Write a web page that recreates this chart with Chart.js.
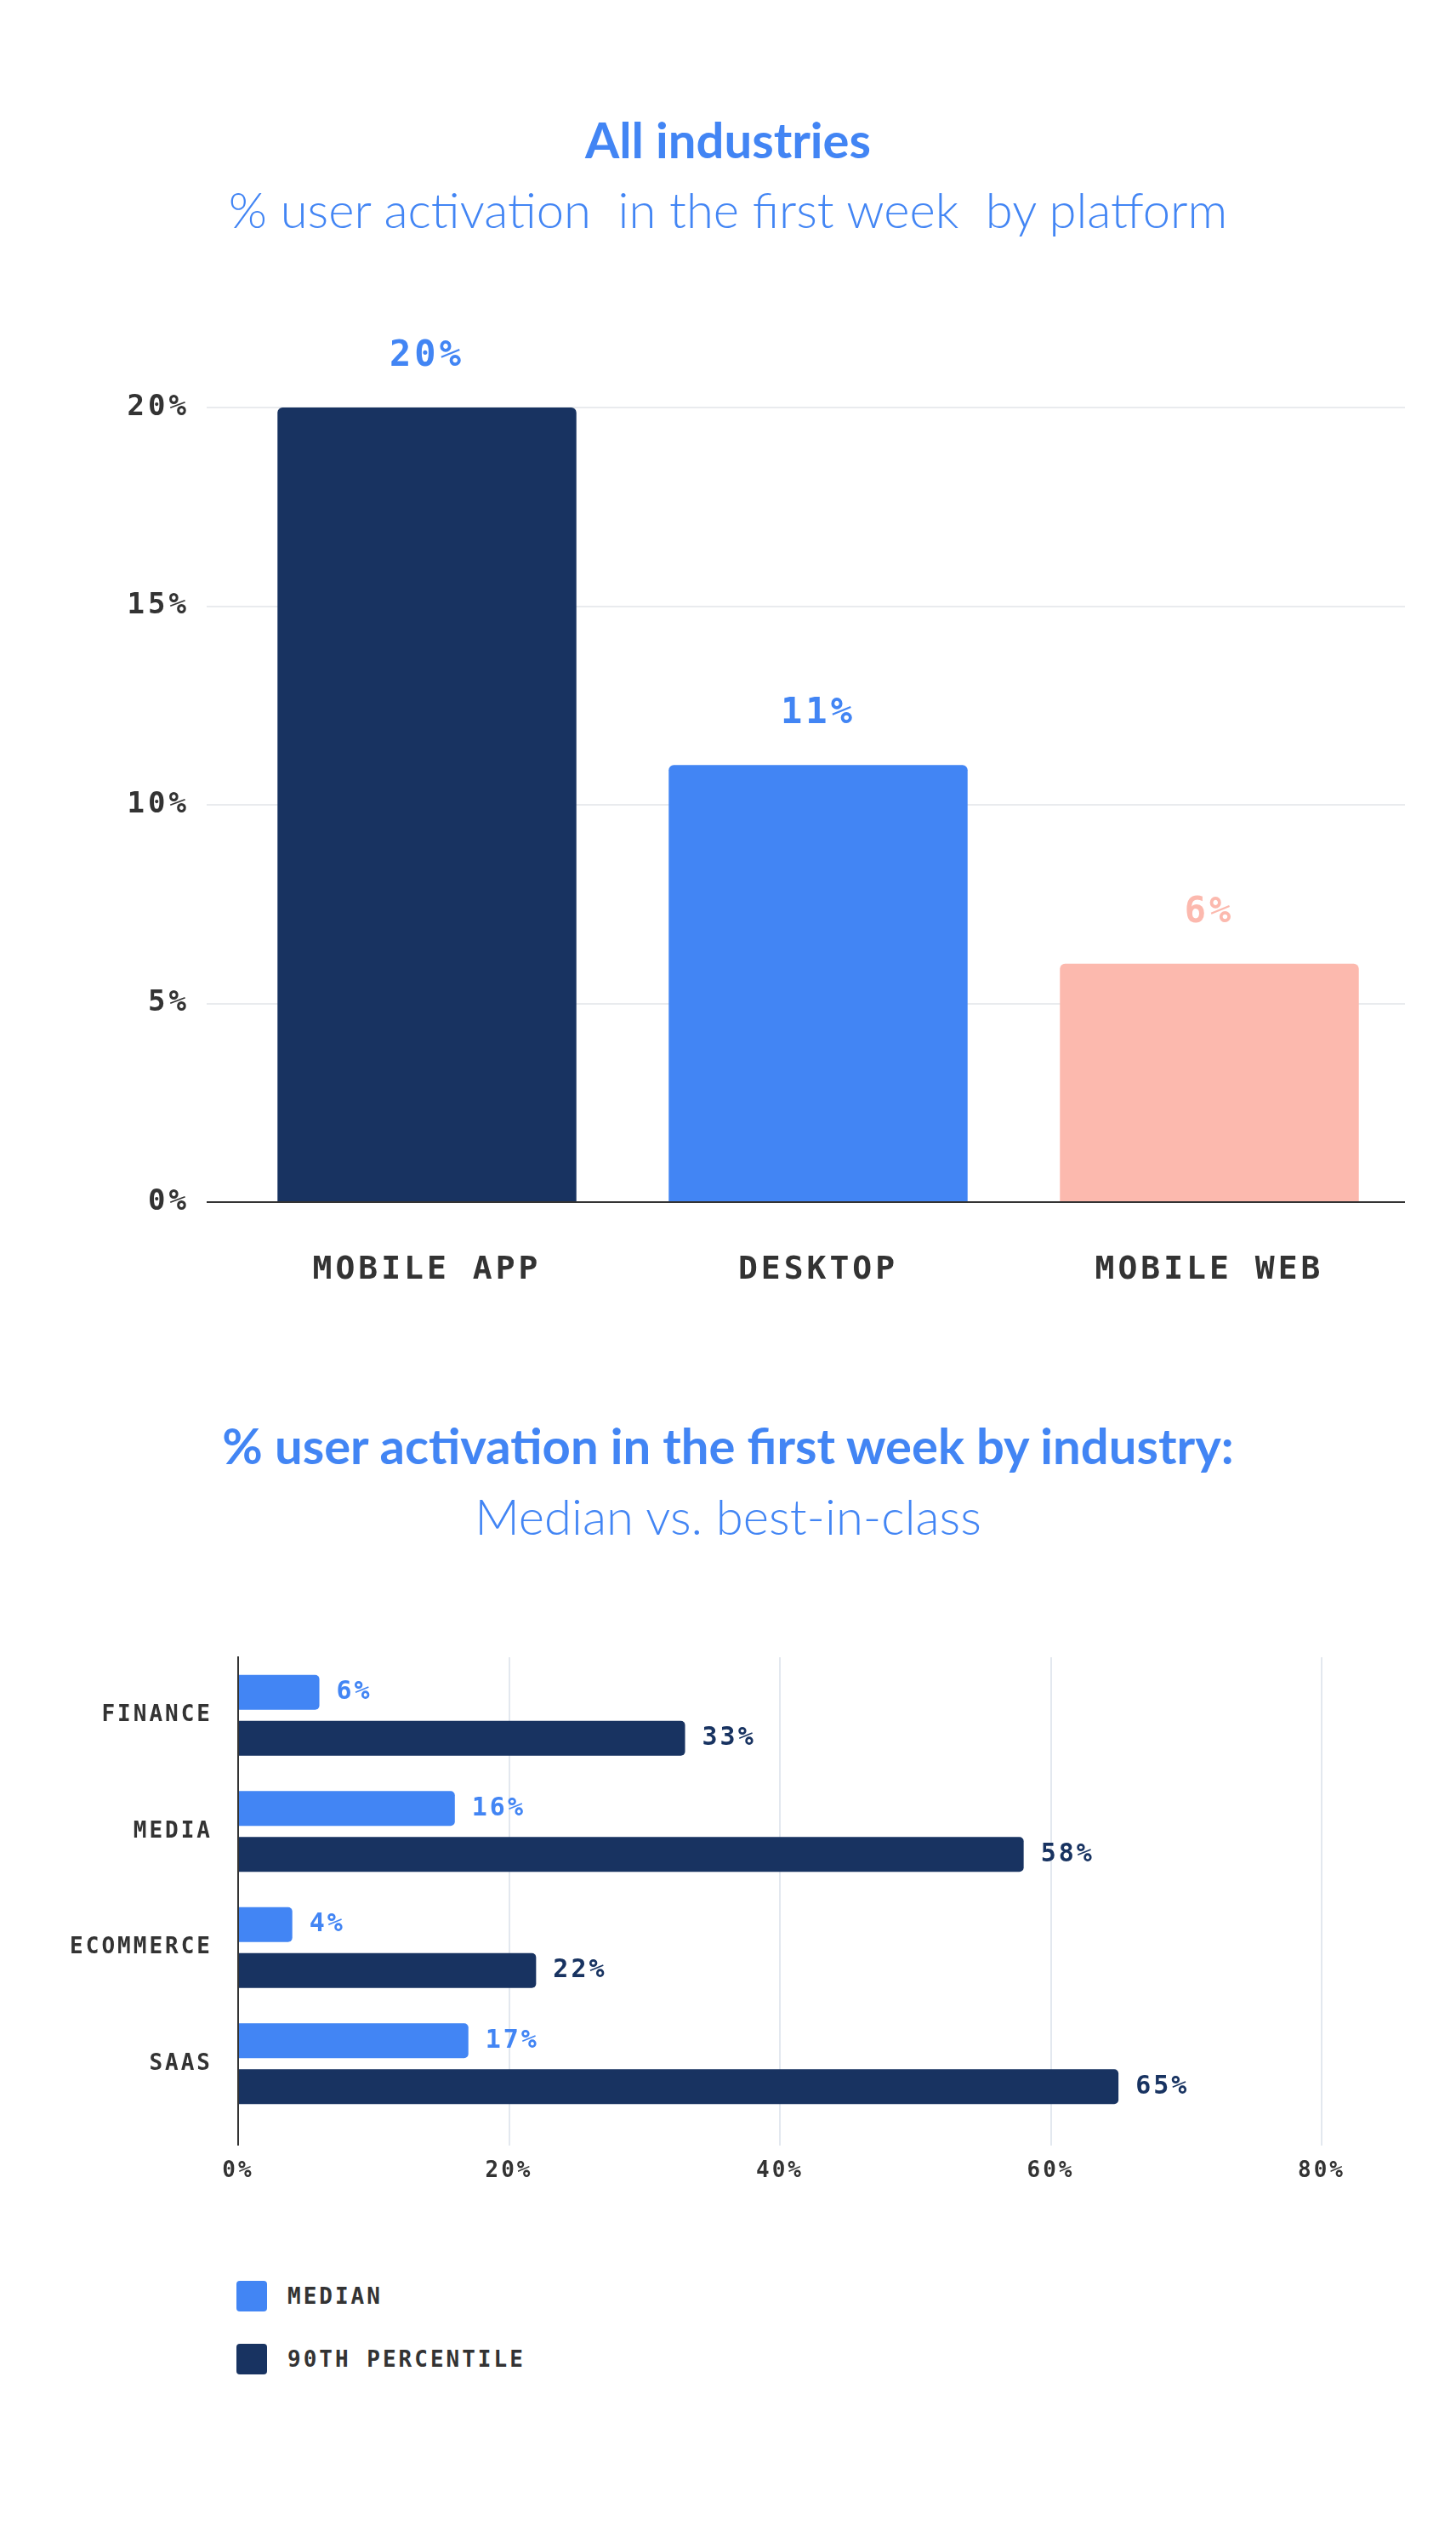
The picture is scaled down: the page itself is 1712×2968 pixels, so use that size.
<!DOCTYPE html>
<html>
<head>
<meta charset="utf-8">
<script src="https://cdn.jsdelivr.net/npm/chart.js@4.4.0/dist/chart.umd.min.js"></script>
<style>
  body { margin: 0; background: #fff; width: 1712px; height: 2968px; position: relative; overflow: hidden; }
  .title { position: absolute; left: 0; width: 1712px; text-align: center; color: #4285F4; font-family: Lato, sans-serif; white-space: pre; }
  .bold { font-weight: 700; font-size: 58px; line-height: 70px; }
  .light { font-weight: 300; font-size: 58px; line-height: 70px; }
  canvas { position: absolute; left: 0; }
  #legend { position: absolute; left: 278px; top: 2681px; font-family: "DejaVu Sans Mono", monospace; font-weight: bold; font-size: 26px; color: #333; letter-spacing: 3px; }
  .item { display: flex; align-items: center; height: 36px; margin-bottom: 38px; }
  .swatch { width: 36px; height: 36px; border-radius: 4px; margin-right: 24px; }
</style>
</head>
<body>
<div class="title bold" style="top:129px">All industries</div>
<div class="title light" style="top:211px">% user activation  in the first week  by platform</div>
<canvas id="platformChart" width="1712" height="1180" style="top:380px"></canvas>

<div class="title bold" style="top:1664px">% user activation in the first week by industry:</div>
<div class="title light" style="top:1747px">Median vs. best-in-class</div>
<canvas id="industryChart" width="1712" height="740" style="top:1880px"></canvas>
<div id="legend"></div>

<script>
// top chart data
const platforms = ['MOBILE APP', 'DESKTOP', 'MOBILE WEB'];
const platformValues = [20, 11, 6];
const platformTicks = [0, 5, 10, 15, 20];

// bottom chart data
const industries = ['FINANCE', 'MEDIA', 'ECOMMERCE', 'SAAS'];
const seriesNames = ['MEDIAN', '90TH PERCENTILE'];
const medianValues = [6, 16, 4, 17];
const p90Values = [33, 58, 22, 65];
const industryTicks = [0, 20, 40, 60, 80];

const navy = '#183361';
const blue = '#4285F4';
const pink = '#FCB9AE';
const mono = '"DejaVu Sans Mono", monospace';

// letter spacing for everything drawn on the canvas
const spacing = px => ({
    id: 'spacing',
    beforeLayout(chart) { chart.ctx.letterSpacing = px + 'px'; },
    beforeDraw(chart) { chart.ctx.letterSpacing = px + 'px'; }
});

// value labels next to / above each bar
const barLabels = {
    id: 'barLabels',
    afterDatasetsDraw(chart, args, opts) {
        const ctx = chart.ctx;
        chart.data.datasets.forEach((ds, i) => {
            chart.getDatasetMeta(i).data.forEach((bar, j) => {
                ctx.save();
                ctx.font = opts.font;
                ctx.textBaseline = 'middle';
                if (chart.options.indexAxis === 'y') {
                    ctx.fillStyle = ds.backgroundColor;
                    ctx.textAlign = 'left';
                    ctx.fillText(ds.data[j] + '%', bar.x + opts.offset, bar.y);
                } else {
                    ctx.fillStyle = opts.colors[j];
                    ctx.textAlign = 'center';
                    ctx.fillText(ds.data[j] + '%', bar.x, bar.y - opts.offset);
                }
                ctx.restore();
            });
        });
    }
};

new Chart(document.getElementById('platformChart'), {
    type: 'bar',
    data: {
        labels: platforms,
        datasets: [{
            data: platformValues,
            backgroundColor: [navy, blue, pink],
            borderRadius: 6,
            barPercentage: 0.764,
            categoryPercentage: 1
        }]
    },
    plugins: [spacing(4), barLabels],
    options: {
        responsive: false,
        animation: false,
        layout: { padding: { top: 99, right: 60, left: 0, bottom: 0 } },
        plugins: {
            legend: { display: false },
            tooltip: { enabled: false },
            barLabels: { font: 'bold 42px ' + mono, offset: 60, colors: [blue, blue, pink] }
        },
        scales: {
            x: {
                grid: { display: false },
                border: { display: false },
                ticks: { color: '#333', padding: 49, font: { family: mono, size: 38, weight: 'bold' } },
                afterFit(scale) { scale.height = 147; }
            },
            y: {
                min: 0,
                max: 20,
                border: { display: false },
                grid: {
                    color: c => c.tick && c.tick.value === 0 ? '#333' : '#e9ebee',
                    tickColor: c => c.tick && c.tick.value === 0 ? '#333' : '#e9ebee',
                    lineWidth: 2,
                    tickLength: 29
                },
                afterBuildTicks(scale) { scale.ticks = platformTicks.map(v => ({ value: v })); },
                ticks: {
                    color: '#333',
                    padding: 20,
                    font: { family: mono, size: 34, weight: 'bold' },
                    callback: v => v + '%'
                },
                afterFit(scale) { scale.width = 272; }
            }
        }
    }
});

const industryChart = new Chart(document.getElementById('industryChart'), {
    type: 'bar',
    data: {
        labels: industries,
        datasets: [
            { label: seriesNames[0], data: medianValues, backgroundColor: blue },
            { label: seriesNames[1], data: p90Values, backgroundColor: navy }
        ]
    },
    plugins: [spacing(3), barLabels],
    options: {
        indexAxis: 'y',
        responsive: false,
        animation: false,
        datasets: { bar: { borderRadius: 5, barPercentage: 0.76, categoryPercentage: 0.79 } },
        layout: { padding: { top: 68, right: 158, left: 0, bottom: 0 } },
        plugins: {
            legend: { display: false },
            tooltip: { enabled: false },
            barLabels: { font: 'bold 30px ' + mono, offset: 20 }
        },
        scales: {
            x: {
                min: 0,
                max: 80,
                border: { display: false },
                grid: {
                    color: c => c.tick && c.tick.value === 0 ? '#333' : '#e3e8ef',
                    tickColor: c => c.tick && c.tick.value === 0 ? '#333' : '#e3e8ef',
                    lineWidth: 2,
                    tickLength: 28
                },
                afterBuildTicks(scale) { scale.ticks = industryTicks.map(v => ({ value: v })); },
                ticks: {
                    color: '#333',
                    padding: 15,
                    font: { family: mono, size: 26, weight: 'bold' },
                    callback: v => v + '%'
                },
                afterFit(scale) { scale.height = 126; }
            },
            y: {
                grid: { display: false },
                border: { display: true, color: '#333', width: 2 },
                ticks: { color: '#333', padding: 22, font: { family: mono, size: 26, weight: 'bold' } },
                afterFit(scale) { scale.width = 280; }
            }
        }
    }
});

// legend as a column under the chart
const legend = document.getElementById('legend');
industryChart.data.datasets.forEach(ds => {
    const item = document.createElement('div');
    item.className = 'item';
    const sw = document.createElement('div');
    sw.className = 'swatch';
    sw.style.background = ds.backgroundColor;
    const txt = document.createElement('span');
    txt.textContent = ds.label;
    item.appendChild(sw);
    item.appendChild(txt);
    legend.appendChild(item);
});
</script>
</body>
</html>
